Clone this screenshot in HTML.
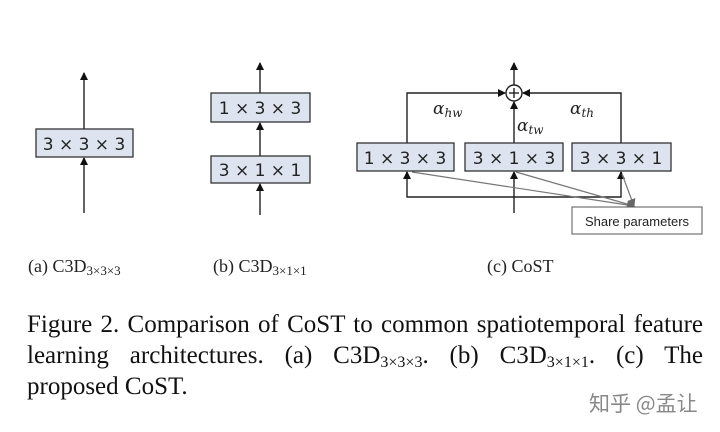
<!DOCTYPE html>
<html><head><meta charset="utf-8"><style>
body{margin:0;background:#fff;width:720px;height:432px;overflow:hidden;position:relative;font-family:"Liberation Serif",serif}
.cap{position:absolute;left:27px;width:676px;font-size:25px;color:#111;white-space:nowrap;line-height:31px}
.j{text-align:justify;text-align-last:justify;white-space:normal}
.sub{font-size:16px;vertical-align:-4px}
</style></head><body>
<svg width="720" height="432" style="position:absolute;left:0;top:0">
<defs><marker id="ar" markerWidth="8" markerHeight="8" refX="7" refY="4" orient="auto" markerUnits="userSpaceOnUse"><path d="M0,0 L8,4 L0,8z" fill="#111"/></marker>
<marker id="ag" markerWidth="8" markerHeight="8" refX="7" refY="4" orient="auto" markerUnits="userSpaceOnUse"><path d="M0,0 L8,4 L0,8z" fill="#666"/></marker></defs>
<g stroke="#222" stroke-width="1.4" fill="none">
<line x1="84" y1="213" x2="84" y2="158" marker-end="url(#ar)"/>
<line x1="84" y1="129" x2="84" y2="73" marker-end="url(#ar)"/>
<line x1="260" y1="215" x2="260" y2="184" marker-end="url(#ar)"/>
<line x1="260" y1="156" x2="260" y2="123" marker-end="url(#ar)"/>
<line x1="260" y1="93" x2="260" y2="63" marker-end="url(#ar)"/>
<line x1="514" y1="213" x2="514" y2="172" marker-end="url(#ar)"/>
<line x1="514" y1="143" x2="514" y2="102" marker-end="url(#ar)"/>
<line x1="514" y1="85" x2="514" y2="63" marker-end="url(#ar)"/>
<polyline points="407,143 407,93 505,93" marker-end="url(#ar)"/>
<polyline points="621,143 621,93 523,93" marker-end="url(#ar)"/>
<polyline points="407,172 407,197 621,197 621,172" />
<line x1="407" y1="178" x2="407" y2="172" marker-end="url(#ar)"/>
<line x1="621" y1="178" x2="621" y2="172" marker-end="url(#ar)"/>
</g>
<g stroke="#777" stroke-width="1.2">
<line x1="412" y1="172" x2="634" y2="206" marker-end="url(#ag)"/>
<line x1="516" y1="172" x2="634" y2="206" marker-end="url(#ag)"/>
<line x1="622" y1="174" x2="634" y2="206" marker-end="url(#ag)"/>
</g>
<circle cx="514" cy="93" r="8" fill="#fff" stroke="#222" stroke-width="1.4"/>
<line x1="509" y1="93" x2="519" y2="93" stroke="#222" stroke-width="1.4"/>
<line x1="514" y1="88" x2="514" y2="98" stroke="#222" stroke-width="1.4"/>
<g fill="#dde4f0" stroke="#333" stroke-width="1.3">
<rect x="36" y="129" width="97" height="28"/>
<rect x="211" y="93" width="99" height="29"/>
<rect x="211" y="156" width="99" height="27"/>
<rect x="357" y="143" width="97" height="28"/>
<rect x="465" y="143" width="98" height="28"/>
<rect x="572" y="143" width="99" height="28"/>
</g>
<rect x="572" y="207" width="130" height="27" fill="#fff" stroke="#555" stroke-width="1"/>
<g font-family="DejaVu Sans, sans-serif" font-size="17" fill="#222" text-anchor="middle">
<text x="84" y="150">3 × 3 × 3</text>
<text x="260" y="114">1 × 3 × 3</text>
<text x="260" y="176">3 × 1 × 1</text>
<text x="405" y="164">1 × 3 × 3</text>
<text x="514" y="164">3 × 1 × 3</text>
<text x="621" y="164">3 × 3 × 1</text>
</g>
<text x="637" y="226" font-family="Liberation Sans, sans-serif" font-size="13" fill="#222" text-anchor="middle">Share parameters</text>
<g font-family="DejaVu Serif, serif" font-style="italic" font-size="17" fill="#222">
<text x="433" y="114">α<tspan font-size="12" dy="3">hw</tspan></text>
<text x="517" y="131">α<tspan font-size="12" dy="3">tw</tspan></text>
<text x="570" y="114">α<tspan font-size="12" dy="3">th</tspan></text>
</g>
<g font-family="Liberation Serif, serif" font-size="18" fill="#222">
<text x="28" y="272">(a) C3D<tspan font-size="13" dy="3">3×3×3</tspan></text>
<text x="213" y="272">(b) C3D<tspan font-size="13" dy="3">3×1×1</tspan></text>
<text x="487" y="272">(c) CoST</text>
</g>
<text x="589" y="411" font-family="Noto Sans CJK SC, sans-serif" font-size="21" fill="#888">知乎 @孟让</text>
</svg>
<div class="cap j" style="top:309px">Figure 2. Comparison of CoST to common spatiotemporal feature</div>
<div class="cap j" style="top:340px">learning architectures. (a) C3D<span class="sub">3×3×3</span>. (b) C3D<span class="sub">3×1×1</span>. (c) The</div>
<div class="cap" style="top:371px">proposed CoST.</div>
</body></html>
